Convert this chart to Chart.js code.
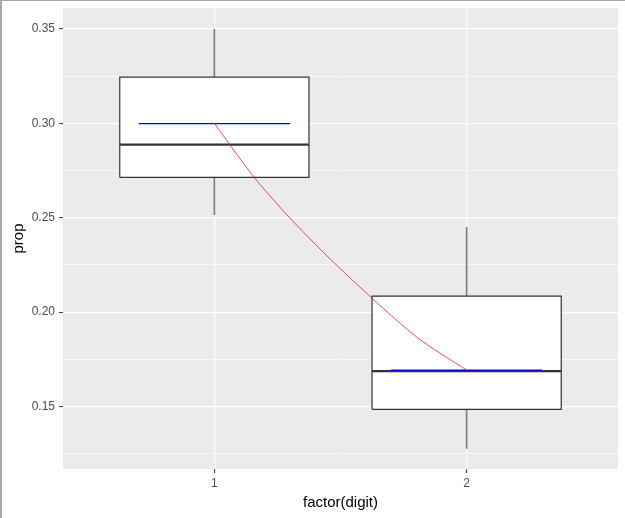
<!DOCTYPE html>
<html>
<head>
<meta charset="utf-8">
<script src="https://cdn.jsdelivr.net/npm/chart.js@4.4.1/dist/chart.umd.min.js"></script>
<style>
html, body { margin: 0; padding: 0; background: #fff; }
canvas { display: block; }
</style>
</head>
<body>
<canvas id="myChart" width="625" height="518"></canvas>
<script>
// box statistics per digit
const categories = ['1', '2'];
const positions = [1, 2];
const whiskerLow = [0.2515, 0.1277];
const lowerQuartile = [0.2714, 0.1486];
const medians = [0.2887, 0.1688];
const upperQuartile = [0.3244, 0.2085];
const whiskerHigh = [0.35, 0.2451];
const expected = [0.2998, 0.1693];

// red curve
const curveX = [1, 1.065, 1.16, 1.24, 1.30, 1.40, 1.46, 1.62, 1.81, 2];
const curveY = [0.300, 0.288, 0.271, 0.2586, 0.2497, 0.236, 0.228, 0.208, 0.186, 0.1694];

const yTicks = [0.125, 0.15, 0.175, 0.2, 0.225, 0.25, 0.275, 0.3, 0.325, 0.35];
const yLabels = ['', '0.15', '', '0.20', '', '0.25', '', '0.30', '', '0.35'];

const FONT = 'Liberation Sans, Arial, sans-serif';
const boxHalf = 0.375;
const expHalf = 0.3;

var datasets = [];
datasets.push({
    label: 'curve',
    data: curveX.map((x, i) => ({ x: x, y: curveY[i] })),
    borderColor: 'rgba(220, 20, 60, 0.75)',
    borderWidth: 1,
    cubicInterpolationMode: 'monotone',
    order: 1
});
positions.forEach((p, i) => {
    datasets.push({
        label: 'expected',
        data: [{ x: p - expHalf, y: expected[i] }, { x: p + expHalf, y: expected[i] }],
        borderColor: '#0000ff',
        borderWidth: 1.3,
        order: 2
    });
    datasets.push({
        label: 'median',
        data: [{ x: p - boxHalf, y: medians[i] }, { x: p + boxHalf, y: medians[i] }],
        borderColor: '#333333',
        borderWidth: 2.4,
        order: 3
    });
    datasets.push({
        label: 'box',
        data: [
            { x: p - boxHalf, y: lowerQuartile[i] },
            { x: p + boxHalf, y: lowerQuartile[i] },
            { x: p + boxHalf, y: upperQuartile[i] },
            { x: p - boxHalf, y: upperQuartile[i] },
            { x: p - boxHalf, y: lowerQuartile[i] }
        ],
        borderColor: '#333333',
        borderWidth: 1.2,
        backgroundColor: '#ffffff',
        fill: 'shape',
        order: 4
    });
    datasets.push({
        label: 'whisker-up',
        data: [{ x: p, y: upperQuartile[i] }, { x: p, y: whiskerHigh[i] }],
        borderColor: '#7a7a7a',
        borderWidth: 1.6,
        order: 5
    });
    datasets.push({
        label: 'whisker-down',
        data: [{ x: p, y: lowerQuartile[i] }, { x: p, y: whiskerLow[i] }],
        borderColor: '#7a7a7a',
        borderWidth: 1.6,
        order: 5
    });
});
datasets.forEach(d => {
    d.showLine = true;
    d.pointRadius = 0;
    d.pointHoverRadius = 0;
});

// grey panel + frame lines
const panelBg = {
    id: 'panelBg',
    beforeDraw(chart) {
        const a = chart.chartArea, c = chart.ctx;
        c.save();
        c.fillStyle = '#ebebeb';
        c.fillRect(a.left, a.top, a.right - a.left, a.bottom - a.top);
        c.restore();
    },
    afterDraw(chart) {
        const c = chart.ctx;
        c.save();
        c.fillStyle = '#a8a8a8';
        c.fillRect(0, 0, chart.width, 1);
        c.fillRect(0, 0, 2, chart.height);
        c.restore();
    }
};

var ctx = document.getElementById('myChart').getContext('2d');

var myChart = new Chart(ctx, {
    type: 'scatter',
    data: { datasets: datasets },
    plugins: [panelBg],
    options: {
        responsive: false,
        animation: false,
        layout: { padding: { left: 0, top: 8, right: 7, bottom: 0 } },
        plugins: { legend: { display: false }, tooltip: { enabled: false } },
        scales: {
            x: {
                type: 'linear',
                min: 0.4,
                max: 2.6,
                afterBuildTicks: s => { s.ticks = positions.map(v => ({ value: v })); },
                afterFit: s => { s.height = 49; s.paddingLeft = 0; s.paddingRight = 0; },
                ticks: {
                    callback: v => categories[positions.indexOf(v)],
                    color: '#4d4d4d',
                    font: { family: FONT, size: 12 },
                    padding: 3,
                    maxRotation: 0,
                    autoSkip: false
                },
                grid: { color: '#ffffff', lineWidth: 1.2, tickColor: '#333333', tickLength: 4, tickWidth: 1 },
                border: { display: false },
                title: {
                    display: true,
                    text: 'factor(digit)',
                    color: '#000000',
                    font: { family: FONT, size: 15 },
                    padding: { top: 0, bottom: 6 }
                }
            },
            y: {
                type: 'linear',
                min: 0.117,
                max: 0.361,
                afterBuildTicks: s => { s.ticks = yTicks.map(v => ({ value: v })); },
                afterFit: s => { s.width = 63; s.paddingTop = 0; s.paddingBottom = 0; },
                ticks: {
                    callback: (v, i) => yLabels[i],
                    color: '#4d4d4d',
                    font: { family: FONT, size: 12 },
                    padding: 4,
                    autoSkip: false
                },
                grid: {
                    color: '#ffffff',
                    lineWidth: c => (yLabels[c.index] ? 1.2 : 0.6),
                    tickColor: c => (yLabels[c.index] ? '#333333' : 'rgba(0,0,0,0)'),
                    tickLength: 4,
                    tickWidth: 1
                },
                border: { display: false },
                title: {
                    display: true,
                    text: 'prop',
                    color: '#000000',
                    font: { family: FONT, size: 15 },
                    padding: { top: 10, bottom: 0 }
                }
            }
        }
    }
});
</script>
</body>
</html>
